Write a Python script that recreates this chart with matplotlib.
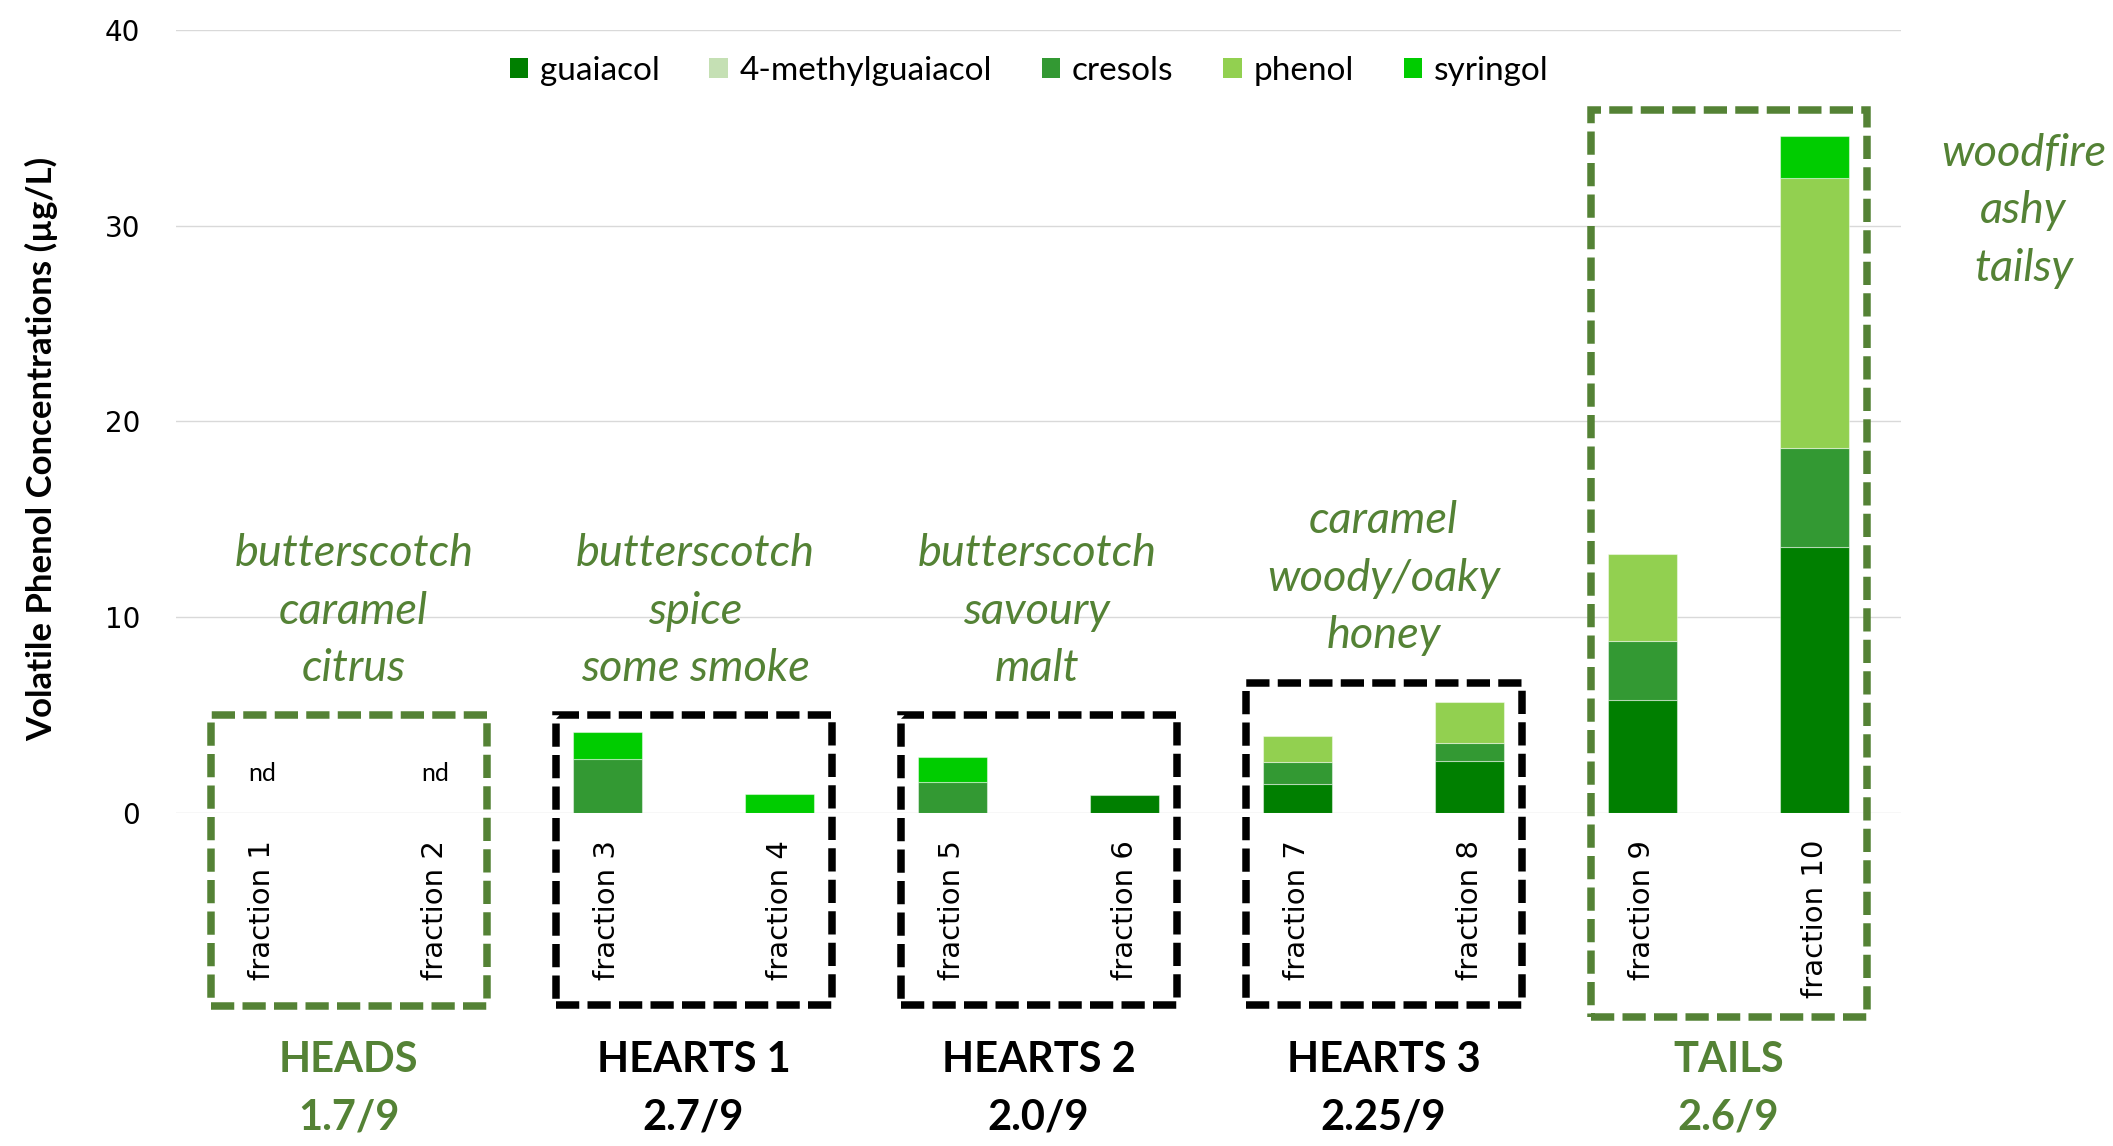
import matplotlib
matplotlib.use('Agg')
import matplotlib.pyplot as plt
from matplotlib.patches import Patch, Rectangle
import numpy as np

# concentrations per distillation fraction (ug/L), stacked bottom to top
fractions = ['fraction 1', 'fraction 2', 'fraction 3', 'fraction 4', 'fraction 5',
             'fraction 6', 'fraction 7', 'fraction 8', 'fraction 9', 'fraction 10']
guaiacol = [0, 0, 0, 0, 0, 0.93, 1.49, 2.68, 5.80, 13.58]
methylguaiacol = [0, 0, 0, 0, 0, 0, 0, 0, 0, 0]
cresols = [0, 0, 2.75, 0, 1.61, 0, 1.13, 0.89, 2.97, 5.06]
phenol = [0, 0, 0, 0, 0, 0, 1.32, 2.09, 4.46, 13.80]
syringol = [0, 0, 1.41, 0.98, 1.26, 0, 0, 0, 0, 2.13]
not_detected = ['fraction 1', 'fraction 2']

compounds = ['guaiacol', '4-methylguaiacol', 'cresols', 'phenol', 'syringol']
colours = ['#007F00', '#C5E0B4', '#339933', '#92D050', '#00CC00']

# cut groups: two fractions each
groups = ['HEADS', 'HEARTS 1', 'HEARTS 2', 'HEARTS 3', 'TAILS']
scores = ['1.7/9', '2.7/9', '2.0/9', '2.25/9', '2.6/9']
descriptors = [['butterscotch', 'caramel', 'citrus'],
               ['butterscotch', 'spice', 'some smoke'],
               ['butterscotch', 'savoury', 'malt'],
               ['caramel', 'woody/oaky', 'honey'],
               ['woodfire', 'ashy', 'tailsy']]

GREEN = '#548235'
group_colours = [GREEN, 'black', 'black', 'black', GREEN]

# box extents (top, bottom) and descriptor placement, in data units
box_top = [5.04, 5.04, 5.04, 6.64, 35.88]
box_bottom = [-9.86, -9.8, -9.8, -9.8, -10.41]
desc_x = [0.53, 2.51, 4.49, 6.50, 10.21]
desc_y = [10.3, 10.3, 10.3, 12.0, 30.75]

W, H = 2113, 1146
fig = plt.figure(figsize=(W / 100, H / 100), dpi=100)
ax = fig.add_axes([176 / W, 1 - 813.3 / H, 1725 / W, (813.3 - 29.6) / H])

x = np.arange(len(fractions))
series = [guaiacol, methylguaiacol, cresols, phenol, syringol]
bottom = np.zeros(len(x))
for vals, col in zip(series, colours):
    vals = np.asarray(vals, dtype=float)
    keep = vals > 0
    if keep.any():
        ax.bar(x[keep], vals[keep], width=0.4, bottom=bottom[keep], color=col,
               edgecolor=(1, 1, 1, 0.45), linewidth=0.8, zorder=3)
    bottom += vals

for name in not_detected:
    i = fractions.index(name)
    ax.text(i, 2.03, 'nd', ha='center', va='center', fontsize=18,
            family='Lato', color='black')

ax.set_xlim(-0.5, 9.5)
ax.set_ylim(0, 40)
ax.set_yticks([0, 10, 20, 30, 40])
ax.set_xticks(x)
ax.set_xticklabels(fractions, rotation=90, fontsize=21, family='DejaVu Sans')
ax.tick_params(axis='x', length=0, pad=19)
ax.tick_params(axis='y', length=0, pad=26, labelsize=20)
ax.grid(axis='y', color='#D9D9D9', linewidth=1.0, zorder=0)
for s in ax.spines.values():
    s.set_visible(False)

fig.text(42 / W, 1 - 449 / H, 'Volatile Phenol Concentrations (µg/L)',
         rotation=90, ha='center', va='center', fontsize=25,
         family='Lato', fontweight='bold')

# dashed group boxes, descriptors and group names
for g in range(len(groups)):
    cx = 2 * g + 0.5
    rect = Rectangle((cx - 0.8, box_bottom[g]), 1.6, box_top[g] - box_bottom[g],
                     fill=False, edgecolor=group_colours[g], linewidth=5.4,
                     linestyle=(0, (3.1, 1.1)), clip_on=False, zorder=4)
    ax.add_patch(rect)
    ax.text(desc_x[g], desc_y[g], '\n'.join(descriptors[g]), ha='center',
            va='center', fontsize=32.5, family='Lato', style='italic',
            color=GREEN, linespacing=1.5, clip_on=False)
    ax.text(cx, -14.05, groups[g] + '\n' + scores[g], ha='center', va='center',
            fontsize=30, family='Lato', fontweight='bold',
            color=group_colours[g], linespacing=1.62, clip_on=False)

handles = [Patch(facecolor=c, edgecolor='none') for c in colours]
ax.legend(handles, compounds, loc='center', bbox_to_anchor=(0.4945, 0.947),
          ncol=5, frameon=False, prop={'family': 'Lato', 'size': 24},
          handlelength=0.55, handleheight=0.55, handletextpad=0.35,
          columnspacing=1.5)

fig.savefig('out.png', dpi=100)
